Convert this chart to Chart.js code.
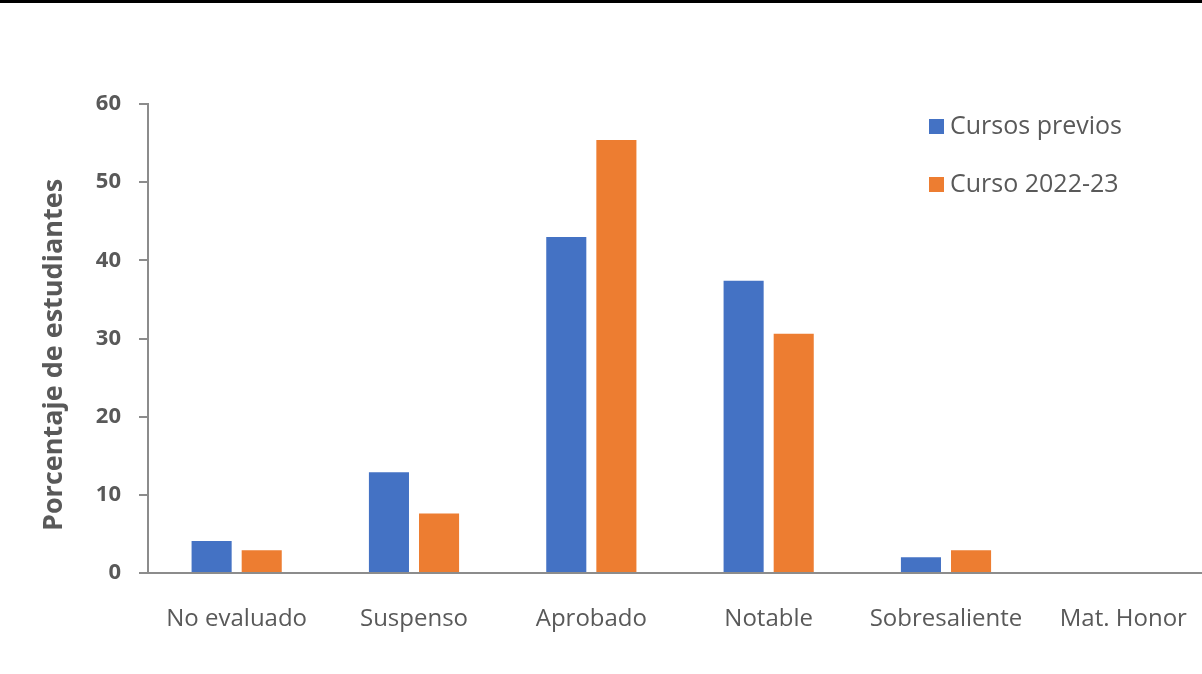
<!DOCTYPE html>
<html>
<head>
<meta charset="utf-8">
<script src="https://cdn.jsdelivr.net/npm/chart.js@4.4.0/dist/chart.umd.min.js"></script>
<style>
  html, body { margin: 0; padding: 0; background: #fff; overflow: hidden; }
  #wrap { position: absolute; left: 0; top: 0; width: 1215px; height: 674px; }
  #topline { position: absolute; left: 0; top: 0; width: 1202px; height: 3px; background: #000; z-index: 2; }
</style>
</head>
<body>
<div id="topline"></div>
<div id="wrap"><canvas id="chart"></canvas></div>
<script>
'use strict';

const categories = ['No evaluado', 'Suspenso', 'Aprobado', 'Notable', 'Sobresaliente', 'Mat. Honor'];
const cursosPrevios = [4.1, 12.9, 43.0, 37.4, 2.0, 0];
const curso2022 = [2.9, 7.6, 55.4, 30.6, 2.9, 0];
const yTicks = [0, 10, 20, 30, 40, 50, 60];
const yTitle = 'Porcentaje de estudiantes';

const labelFont = '"Open Sans", sans-serif';
const textGray = '#595959';
const axisGray = '#8c8c8c';

// legend stacked top-right, plus the rotated y title (chart.js puts it too far left)
const extras = {
  id: 'extras',
  afterDraw(chart) {
    const ctx = chart.ctx;
    ctx.save();
    ctx.font = '25px ' + labelFont;
    ctx.textBaseline = 'middle';
    chart.data.datasets.forEach((ds, i) => {
      const y = 127 + i * 58;
      ctx.fillStyle = ds.backgroundColor;
      ctx.fillRect(929, y - 8, 15, 15);
      ctx.fillStyle = textGray;
      ctx.fillText(ds.label, 950, y);
    });

    ctx.translate(54, 355);
    ctx.rotate(-Math.PI / 2);
    ctx.textAlign = 'center';
    ctx.font = 'bold 27px ' + labelFont;
    ctx.fillStyle = textGray;
    ctx.fillText(yTitle, 0, 0);
    ctx.restore();
  }
};

new Chart(document.getElementById('chart'), {
  type: 'bar',
  data: {
    labels: categories,
    datasets: [
      { label: 'Cursos previos', data: cursosPrevios, backgroundColor: '#4472C4' },
      { label: 'Curso 2022-23', data: curso2022, backgroundColor: '#ED7D31' }
    ]
  },
  options: {
    responsive: true,
    maintainAspectRatio: false,
    animation: false,
    categoryPercentage: 0.565,
    barPercentage: 0.8,
    layout: { padding: { top: 104, left: 0, right: 3, bottom: 0 } },
    plugins: {
      legend: { display: false },
      tooltip: { enabled: false }
    },
    scales: {
      x: {
        grid: { display: false },
        border: { display: true, color: axisGray, width: 2 },
        ticks: {
          color: textGray,
          font: { family: labelFont, size: 24 },
          padding: 24,
          maxRotation: 0,
          autoSkip: false
        },
        afterFit(scale) { scale.height = 101; }
      },
      y: {
        min: 0,
        max: 60,
        afterBuildTicks(scale) { scale.ticks = yTicks.map(v => ({ value: v })); },
        grid: { display: true, drawOnChartArea: false, color: axisGray, tickLength: 9, lineWidth: 2 },
        border: { display: true, color: axisGray, width: 2 },
        ticks: {
          color: textGray,
          font: { family: labelFont, size: 22, weight: 'bold' },
          padding: 18
        },
        afterFit(scale) { scale.width = 148; }
      }
    }
  },
  plugins: [extras]
});
</script>
</body>
</html>
